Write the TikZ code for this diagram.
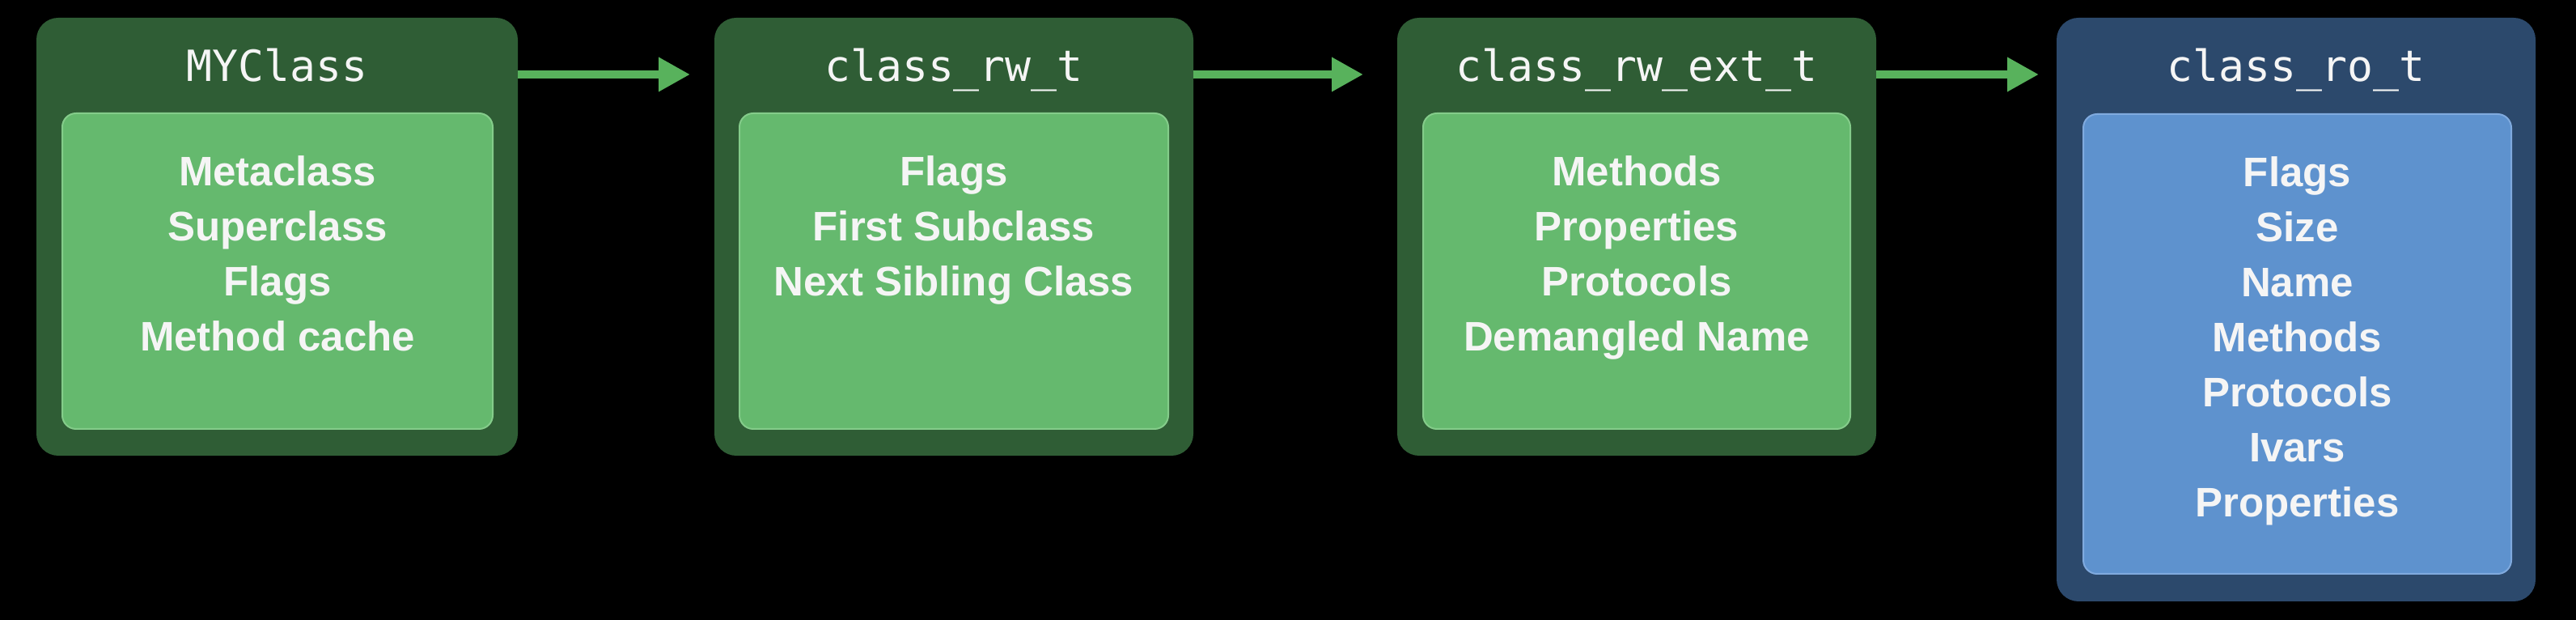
\documentclass[tikz,border=0pt]{standalone}
\usepackage{fontspec}
\setmainfont{Liberation Sans}
\newfontfamily\monofam{DejaVu Sans Mono}
\usetikzlibrary{arrows.meta,calc}
\definecolor{gOuter}{RGB}{47,93,53}
\definecolor{gInner}{RGB}{101,185,110}
\definecolor{gLine}{RGB}{132,204,138}
\definecolor{bOuter}{RGB}{44,73,108}
\definecolor{bInner}{RGB}{94,146,206}
\definecolor{bLine}{RGB}{128,170,222}
\definecolor{arrG}{RGB}{88,178,92}
\definecolor{txt}{RGB}{245,245,245}
\tikzset{
  outerbox/.style={rectangle, rounded corners=0.27cm, inner sep=0pt, outer sep=0pt, anchor=north west},
  innerbox/.style={rectangle, rounded corners=0.17cm, inner sep=0pt, outer sep=0pt, anchor=north west, line width=0.02cm},
  titletext/.style={text=txt, font={\monofam\fontsize{15.1}{18}\selectfont}, anchor=base, inner sep=0pt},
  itemtext/.style={text=txt, font={\bfseries\fontsize{14.5}{19.35}\selectfont}, align=center, anchor=north, inner sep=0pt},
  conn/.style={arrG, line width=0.10cm, -{Triangle[length=0.39cm,width=0.40cm]}}
}
\begin{document}
\begin{tikzpicture}
\useasboundingbox (0,0) rectangle (31.84,-7.66);
\fill[black] (0,0) rectangle (31.84,-7.66);

% outer boxes
\node[outerbox, fill=gOuter, minimum width=5.95cm, minimum height=5.41cm] (b1) at (0.45,-0.22) {};
\node[outerbox, fill=gOuter, minimum width=5.92cm, minimum height=5.41cm] (b2) at (8.83,-0.22) {};
\node[outerbox, fill=gOuter, minimum width=5.92cm, minimum height=5.41cm] (b3) at (17.27,-0.22) {};
\node[outerbox, fill=bOuter, minimum width=5.92cm, minimum height=7.21cm] (b4) at (25.42,-0.22) {};

% inner boxes
\node[innerbox, fill=gInner, draw=gLine, minimum width=5.32cm, minimum height=3.90cm] (i1) at (0.77,-1.40) {};
\node[innerbox, fill=gInner, draw=gLine, minimum width=5.30cm, minimum height=3.90cm] (i2) at (9.14,-1.40) {};
\node[innerbox, fill=gInner, draw=gLine, minimum width=5.28cm, minimum height=3.90cm] (i3) at (17.59,-1.40) {};
\node[innerbox, fill=bInner, draw=bLine, minimum width=5.29cm, minimum height=5.68cm] (i4) at (25.75,-1.41) {};

% titles
\node[titletext] (t1) at (b1.center |- 0,-1.01) {MYClass};
\node[titletext] (t2) at (b2.center |- 0,-1.01) {class\_rw\_t};
\node[titletext] (t3) at (b3.center |- 0,-1.01) {class\_rw\_ext\_t};
\node[titletext] (t4) at (b4.center |- 0,-1.01) {class\_ro\_t};

% items
\node[itemtext] (l1) at (i1.center |- 0,-1.916) {Metaclass\\Superclass\\Flags\\Method cache};
\node[itemtext] (l2) at (i2.center |- 0,-1.916) {Flags\\First Subclass\\Next Sibling Class};
\node[itemtext] (l3) at (i3.center |- 0,-1.916) {Methods\\Properties\\Protocols\\Demangled Name};
\node[itemtext] (l4) at (i4.center |- 0,-1.926) {Flags\\Size\\Name\\Methods\\Protocols\\Ivars\\Properties};

% connectors
\draw[conn, shorten >=0.30cm] (b1.east |- 0,-0.92) -- (b2.west |- 0,-0.92);
\draw[conn, shorten >=0.42cm] (b2.east |- 0,-0.92) -- (b3.west |- 0,-0.92);
\draw[conn, shorten >=0.22cm] (b3.east |- 0,-0.92) -- (b4.west |- 0,-0.92);
\end{tikzpicture}
\end{document}
